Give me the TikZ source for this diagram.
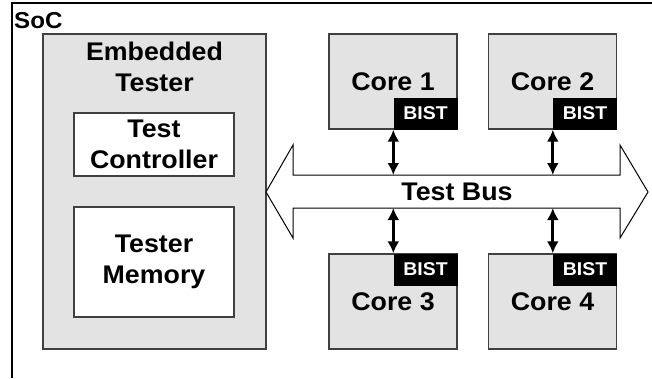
\documentclass[tikz,border=0pt]{standalone}
\usepackage{fontspec}
\setmainfont{Liberation Sans}[FakeStretch=1.05]
\usetikzlibrary{positioning,arrows.meta}

\tikzset{
  bigtext/.style={font=\bfseries\fontsize{25.5}{31}\selectfont},
  block/.style={draw=black!75, line width=1.4pt, fill=black!11},
  core/.style={block, bigtext, minimum width=128pt, minimum height=95pt},
  bist/.style={fill=black, text=white, inner sep=0pt, minimum width=64pt,
    minimum height=32pt, font=\bfseries\fontsize{18.5}{20}\selectfont},
  unit/.style={draw=black!75, line width=1.1pt, fill=white, bigtext,
    align=center, inner sep=0pt, minimum width=160pt},
  link/.style={line width=3pt, {Latex[length=12pt,width=12pt]}-{Latex[length=12pt,width=12pt]}}
}

\begin{document}
\begin{tikzpicture}[x=1pt,y=-1pt]
\useasboundingbox (0,0) rectangle (652,378);

% SoC frame, cut by the page
\draw[line width=1.4pt] (12,378) -- (12,3) -- (652,3);
\node[anchor=base west, inner sep=0pt, font=\bfseries\fontsize{23}{26}\selectfont] (soc) at (14,28) {SoC};

% Embedded tester (left)
\node[block, minimum width=223pt, minimum height=315pt] (tester) at (154.5,191.5) {};
\node[bigtext, align=center, inner sep=0pt, anchor=north] (testerlbl) at (154.5,42) {Embedded\\Tester};
\node[unit, minimum height=63pt] (ctrl) at (154,144.5) {Test\\Controller};
\node[unit, minimum height=110pt] (mem) at (154,262) {Tester\\Memory};

% Test bus
\draw[line width=1pt, fill=white] (266,192) -- (293,145) -- (293,175) -- (620,175) -- (620,145)
  -- (648,192) -- (620,238) -- (620,208) -- (293,208) -- (293,238) -- cycle;
\coordinate (bustop) at (293,175);
\coordinate (busbot) at (293,208);
\node[bigtext] (bus) at (457,192) {Test Bus};

% Cores with their BIST blocks
\foreach \n/\x/\y/\corner in {1/393/81.5/south east, 2/552.5/81.5/south east,
                              3/393/301.5/north east, 4/552.5/301.5/north east} {
  \node[core] (core\n) at (\x,\y) {Core \n};
  \node[bist, anchor=\corner] (bist\n) at (core\n.\corner) {BIST};
}

% Links between BIST blocks and the bus
\foreach \n in {1,2}
  \draw[link] (bist\n.south west) -- (bist\n.south west |- bustop);
\foreach \n in {3,4}
  \draw[link] (bist\n.north west) -- (bist\n.north west |- busbot);
\end{tikzpicture}
\end{document}
